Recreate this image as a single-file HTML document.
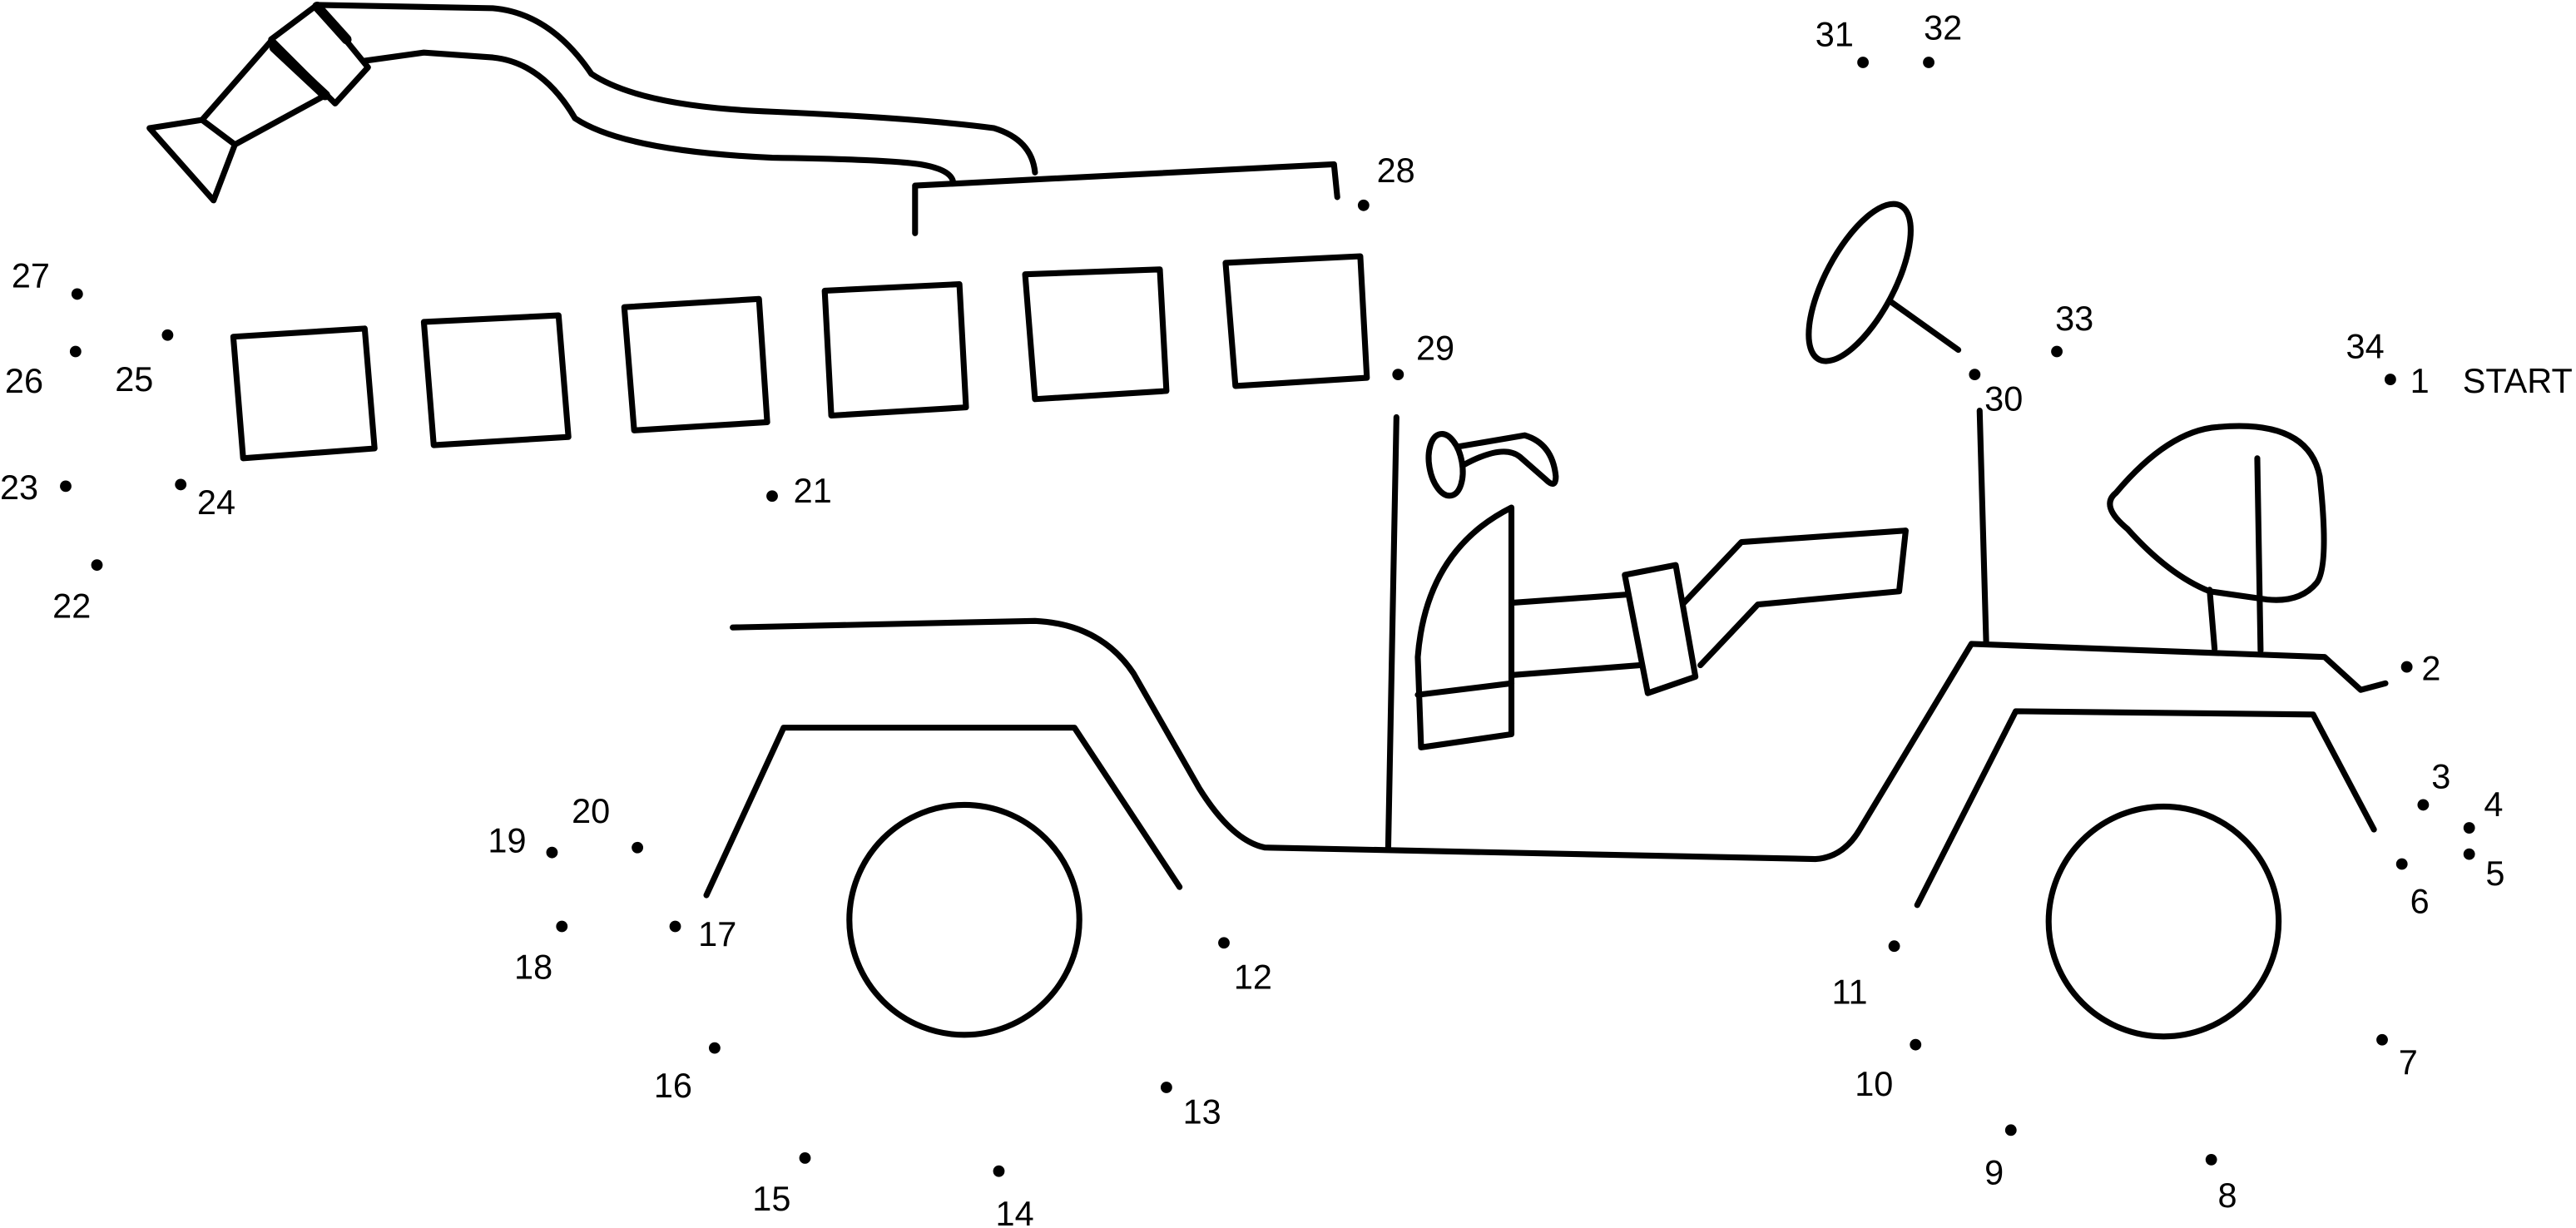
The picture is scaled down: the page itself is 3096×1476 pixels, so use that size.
<!DOCTYPE html>
<html><head><style>html,body{margin:0;padding:0;background:#fff;}svg{display:block}</style></head>
<body>
<svg width="3096" height="1476" viewBox="0 0 1568 747.6" preserveAspectRatio="none" xmlns="http://www.w3.org/2000/svg">
<g fill="none" stroke="#000" stroke-width="3.6" stroke-linejoin="round" stroke-linecap="round">
<!-- nozzle -->
<path d="M91,78 L123,73 L143,88 L130,122 Z"/>
<path d="M123,73 L165,25 M143,88 L198,58"/>
<path d="M165,24 L193,3 L224,41 L204,63 Z"/>
<path d="M167,29 L198,58" stroke-width="6"/>
<path d="M193,4 L211,24" stroke-width="6"/>
<!-- hose -->
<path d="M193,3 L300,5 Q335,8 360,45 Q390,65 470,68 Q560,72 605,78 Q628,85 630,105"/>
<path d="M222,37 L258,32 L300,35 Q330,38 350,72 Q380,92 470,96 Q540,97 560,100 Q578,103 580,110"/>
<!-- ladder rail -->
<path d="M557,142 L557,113 L812,100 L814,120"/>
<!-- boxes -->
<path d="M142,205 L222,200 L228,273 L148,279 Z"/>
<path d="M258,196 L340,192 L346,266 L264,271 Z"/>
<path d="M380,187 L462,182 L467,257 L386,262 Z"/>
<path d="M502,177 L584,173 L588,248 L506,253 Z"/>
<path d="M624,167 L706,164 L710,238 L630,243 Z"/>
<path d="M746,160 L828,156 L832,230 L752,235 Z"/>
<!-- body -->
<path d="M446,382 L630,378 Q670,380 690,410 L730,480 Q750,512 770,516 L1105,523 Q1122,522 1132,505 L1200,392 L1415,400 L1437,420 L1452,416"/>
<path d="M850,254 L845,516"/>
<path d="M1205,250 L1209,392"/>
<!-- wheel wells -->
<path d="M430,545 L477,443 L654,443 L718,540"/>
<path d="M1167,551 L1227,433 L1408,435 L1445,505"/>
<circle cx="587" cy="560" r="70"/>
<circle cx="1317" cy="561" r="70"/>
<!-- steering wheel -->
<ellipse cx="1132" cy="172" rx="21" ry="53" transform="rotate(28 1132 172)"/>
<path d="M1150,183 L1192,213"/>
<!-- seat/hose reel -->
<ellipse cx="880" cy="283" rx="10" ry="19" transform="rotate(-10 880 283)"/>
<path d="M887,272 L928,265 Q945,270 947,290 Q947,298 941,292 L925,278 Q915,270 891,283"/>
<path d="M920,309 Q868,335 863,400 L865,455 L920,447 Z"/>
<path d="M863,423 L920,416"/>
<path d="M920,367 L990,362 M920,411 L998,405"/>
<path d="M989,350 L1020,344 L1032,412 L1003,422 Z"/>
<path d="M1025,367 L1060,330 L1160,323 L1156,360 L1070,368 L1035,405"/>
<!-- rear seat -->
<path d="M1348,395 L1345,359 M1376,396 L1374,279"/>
<path d="M1288,300 Q1320,262 1350,260 Q1405,255 1412,290 Q1418,345 1410,355 Q1400,367 1380,365 L1345,360 Q1320,350 1295,322 Q1278,308 1288,300 Z"/>
</g>
<g fill="#000">
<circle cx="1455" cy="231" r="3.5"/><circle cx="1465" cy="406" r="3.5"/><circle cx="1475" cy="490" r="3.5"/><circle cx="1503" cy="504" r="3.5"/><circle cx="1503" cy="520" r="3.5"/><circle cx="1462" cy="526" r="3.5"/><circle cx="1450" cy="633" r="3.5"/><circle cx="1346" cy="706" r="3.5"/><circle cx="1224" cy="688" r="3.5"/><circle cx="1166" cy="636" r="3.5"/><circle cx="1153" cy="576" r="3.5"/><circle cx="745" cy="574" r="3.5"/><circle cx="710" cy="662" r="3.5"/><circle cx="608" cy="713" r="3.5"/><circle cx="490" cy="705" r="3.5"/><circle cx="435" cy="638" r="3.5"/><circle cx="411" cy="564" r="3.5"/><circle cx="342" cy="564" r="3.5"/><circle cx="336" cy="519" r="3.5"/><circle cx="388" cy="516" r="3.5"/><circle cx="470" cy="302" r="3.5"/><circle cx="59" cy="344" r="3.5"/><circle cx="40" cy="296" r="3.5"/><circle cx="110" cy="295" r="3.5"/><circle cx="102" cy="204" r="3.5"/><circle cx="46" cy="214" r="3.5"/><circle cx="47" cy="179" r="3.5"/><circle cx="830" cy="125" r="3.5"/><circle cx="851" cy="228" r="3.5"/><circle cx="1202" cy="228" r="3.5"/><circle cx="1134" cy="38" r="3.5"/><circle cx="1174" cy="38" r="3.5"/><circle cx="1252" cy="214" r="3.5"/>
</g>
<g font-family="Liberation Sans, sans-serif" font-size="21" fill="#000">
<text x="1467" y="239">1</text><text x="1499" y="239">START</text>
<text x="1474" y="414">2</text><text x="1480" y="480">3</text><text x="1512" y="497">4</text><text x="1513" y="539">5</text><text x="1467" y="556">6</text><text x="1460" y="654">7</text><text x="1350" y="735">8</text><text x="1208" y="721">9</text><text x="1129" y="667">10</text><text x="1115" y="611">11</text><text x="751" y="602">12</text><text x="720" y="684">13</text><text x="606" y="746">14</text><text x="458" y="737">15</text><text x="398" y="668">16</text><text x="425" y="576">17</text><text x="313" y="596">18</text><text x="297" y="519">19</text><text x="348" y="501">20</text><text x="483" y="306">21</text><text x="32" y="376">22</text><text x="0" y="304">23</text><text x="120" y="313">24</text><text x="70" y="238">25</text><text x="3" y="239">26</text><text x="7" y="175">27</text><text x="838" y="111">28</text><text x="862" y="219">29</text><text x="1208" y="250">30</text><text x="1105" y="28">31</text><text x="1171" y="24">32</text><text x="1251" y="201">33</text><text x="1428" y="218">34</text>
</g>
</svg>
</body></html>
